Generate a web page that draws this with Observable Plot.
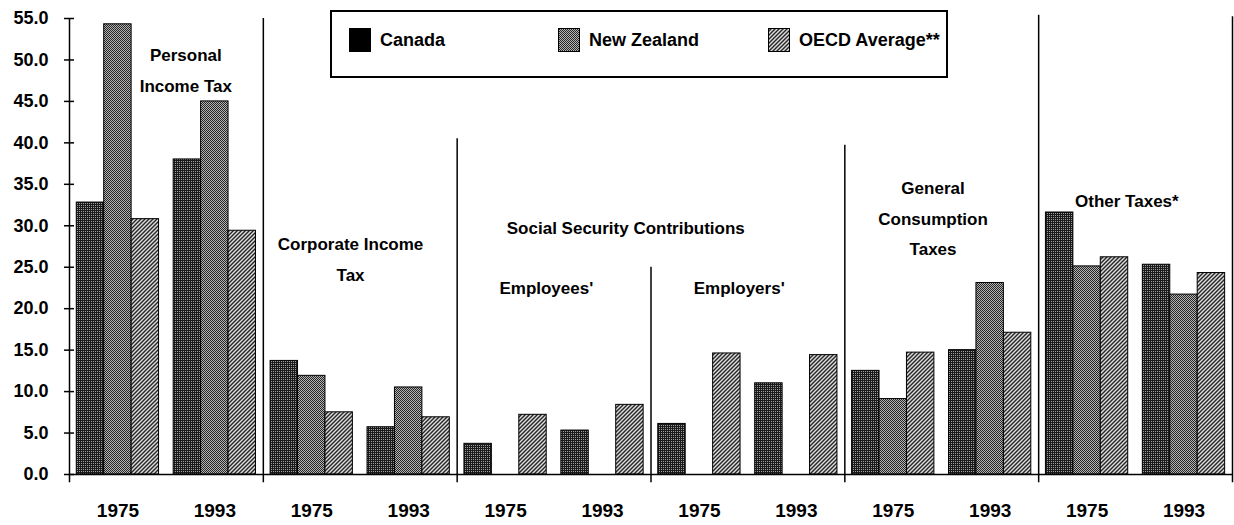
<!DOCTYPE html>
<html><head><meta charset="utf-8">
<script src="https://cdn.jsdelivr.net/npm/d3@7"></script>
<script src="https://cdn.jsdelivr.net/npm/@observablehq/plot@0.6"></script>
<style>
body{margin:0;background:#fff;font-family:"Liberation Sans",Arial,sans-serif;}
#wrap{position:relative;width:1234px;height:525px;}
#legend{position:absolute;left:330px;top:10px;width:618px;height:68px;box-sizing:border-box;border:2px solid #000;background:#fff;font-weight:bold;font-size:18px;color:#000;}
.item{position:absolute;top:16px;display:flex;align-items:center;height:24px;white-space:nowrap;}
.item svg{margin-right:9px;display:block}
</style></head>
<body>
<svg width="0" height="0" style="position:absolute">
<defs>
<pattern id="pCanada" width="2" height="2" patternUnits="userSpaceOnUse">
<rect width="2" height="2" fill="#1a1a1a"/><rect x="1" y="1" width="1" height="1" fill="#a0a0a0"/>
</pattern>
<pattern id="pNZ" width="2" height="2" patternUnits="userSpaceOnUse">
<rect width="2" height="2" fill="#b4b4b4"/><rect x="0" y="0" width="1" height="1" fill="#262626"/><rect x="1" y="1" width="1" height="1" fill="#262626"/>
</pattern>
<pattern id="pOECD" width="4" height="4" patternUnits="userSpaceOnUse">
<rect width="4" height="4" fill="#dcdcdc"/><path d="M-1,1 L1,-1 M0,4 L4,0 M3,5 L5,3" stroke="#262626" stroke-width="1.4"/>
</pattern>
</defs>
</svg>
<div id="wrap"><div id="chart"></div><div id="legend"></div></div>
<script>
const groups = ["Personal Income Tax", "Corporate Income Tax", "Employees'", "Employers'", "General Consumption Taxes", "Other Taxes*"];
const years = ["1975", "1993"];
const countries = ["Canada", "New Zealand", "OECD Average**"];
// one value per (group, year) slot, in order
const canada     = [32.8, 38.0, 13.7, 5.7, 3.7, 5.3, 6.1, 11.0, 12.5, 15.0, 31.6, 25.3];
const newZealand = [54.3, 45.0, 11.9, 10.5, null, null, null, null, 9.1, 23.1, 25.1, 21.7];
const oecd       = [30.8, 29.4, 7.5, 6.9, 7.2, 8.4, 14.6, 14.4, 14.7, 17.1, 26.2, 24.3];
const yTicks = [0, 5, 10, 15, 20, 25, 30, 35, 40, 45, 50, 55];
const labelTexts = ["Personal\nIncome Tax", "Corporate Income\nTax", "Social Security Contributions", "Employees'", "Employers'", "General\nConsumption\nTaxes", "Other Taxes*"];

// layout (not data)
const labelPos = [[1.2, 49.2], [2.9, 26.4], [5.74, 30.2], [4.92, 23.0], [6.91, 23.0], [8.91, 31.3], [10.91, 33.45]];
const sepSlots = [2, 4, 6, 8, 10, 12];
const sepTops = [55, 40.5, 25, 39.7, 55.4, 55.2];
const patterns = ["url(#pCanada)", "url(#pNZ)", "url(#pOECD)"];
const barOffset = 0.075, barW = 0.283;

const series = [canada, newZealand, oecd];
const nSlots = groups.length * years.length;
const rows = [];
for (let i = 0; i < nSlots; i++) {
  series.forEach((vals, ci) => {
    if (vals[i] != null) rows.push({slot: i, ci, group: groups[Math.floor(i / 2)], year: years[i % 2], country: countries[ci], value: vals[i]});
  });
}
const slotCenters = d3.range(nSlots).map(i => i + 0.5);
const seps = sepSlots.map((s, i) => ({x: s, top: sepTops[i]}));

const chart = Plot.plot({
  width: 1234, height: 525,
  marginLeft: 69, marginRight: 2, marginTop: 18, marginBottom: 51,
  x: {domain: [0, nSlots], axis: null},
  y: {domain: [0, 55], axis: null},
  color: {type: "identity"},
  style: {fontFamily: "'Liberation Sans', Arial, sans-serif", fontWeight: "bold", fontSize: "18px", color: "#000", background: "#fff", overflow: "visible"},
  marks: [
    Plot.rect(rows, {
      x1: d => d.slot + barOffset + d.ci * barW,
      x2: d => d.slot + barOffset + (d.ci + 1) * barW,
      y1: 0, y2: "value",
      fill: d => patterns[d.ci], stroke: "#000", strokeWidth: 1
    }),
    Plot.ruleY([0], {stroke: "#000", strokeWidth: 1.5}),
    Plot.ruleX([0], {y1: -1, y2: 55, stroke: "#000", strokeWidth: 1.5}),
    Plot.ruleX(seps, {x: "x", y1: -1, y2: "top", stroke: "#000", strokeWidth: 1.5}),
    Plot.axisY({ticks: yTicks, tickFormat: d3.format(".1f"), tickSize: 10, dx: 5, tickPadding: 16, label: null, fontSize: 18, strokeWidth: 1.5}),
    Plot.axisX({ticks: slotCenters, tickFormat: d => years[Math.round(d - 0.5) % 2], tickSize: 0, tickPadding: 29, label: null, fontSize: 19}),
    Plot.text(labelTexts, {x: (d, i) => labelPos[i][0], y: (d, i) => labelPos[i][1], text: d => d, fontSize: 17, fontWeight: "bold", lineHeight: 1.8, fill: "#000"})
  ]
});
document.getElementById("chart").appendChild(chart);

// legend
const legendX = [17, 226, 436];
const legend = document.getElementById("legend");
countries.forEach((c, i) => {
  const item = document.createElement("div");
  item.className = "item";
  item.style.left = legendX[i] + "px";
  const fill = i === 0 ? "#000" : patterns[i];
  item.innerHTML = `<svg width="22" height="24"><rect x="0.5" y="0.5" width="21" height="23" fill="${fill}" stroke="#000"/></svg><span>${c}</span>`;
  legend.appendChild(item);
});
</script>
</body></html>
